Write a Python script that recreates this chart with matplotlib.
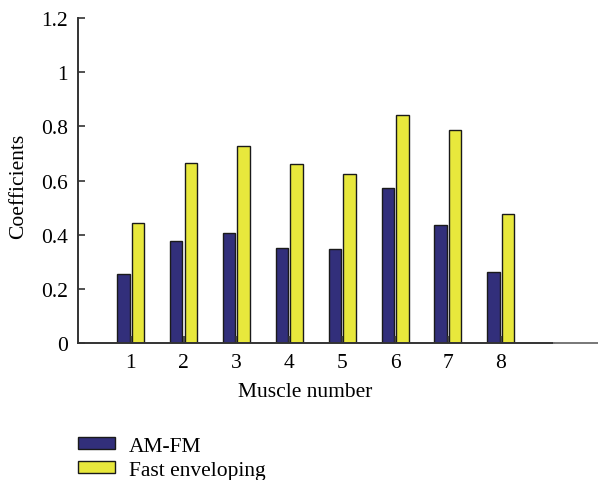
import numpy as np
import matplotlib.pyplot as plt
from matplotlib.lines import Line2D

# --- DATA ---
muscles = [1, 2, 3, 4, 5, 6, 7, 8]
am_fm = [0.255, 0.375, 0.406, 0.352, 0.346, 0.574, 0.436, 0.263]
fast_env = [0.443, 0.664, 0.727, 0.661, 0.623, 0.842, 0.786, 0.475]
y_ticks = [0, 0.2, 0.4, 0.6, 0.8, 1.0, 1.2]
y_tick_labels = ["0", "0.2", "0.4", "0.6", "0.8", "1", "1.2"]

plt.rcParams['font.family'] = ['Liberation Serif', 'DejaVu Serif']
fs = 15.5

# --- PLOT ---
fig = plt.figure(figsize=(5.98, 4.81), dpi=100)
ax = fig.add_axes([0.130, 0.2848, 0.796, 0.6757])

x = np.array(muscles)
w = 0.235
edge = '#1a1a1a'
bars1 = ax.bar(x - 0.138, am_fm, width=w, color='#322f7b', edgecolor=edge,
               linewidth=1.0, label="AM-FM")
bars2 = ax.bar(x + 0.138, fast_env, width=w, color='#e8e83c', edgecolor=edge,
               linewidth=1.0, label="Fast enveloping")

ax.set_xlim(0, 9)
ax.set_ylim(0, 1.2)
ax.set_xticks(muscles)
ax.set_yticks(y_ticks)
ax.set_yticklabels(y_tick_labels)

# eixos estilo "in", sem topo e direita
for s in ['top', 'right']:
    ax.spines[s].set_visible(False)
for s in ['left', 'bottom']:
    ax.spines[s].set_color('#333333')
    ax.spines[s].set_linewidth(1.4)
ax.tick_params(axis='both', direction='in', length=5, width=1.2,
               colors='#333333', labelcolor='black', labelsize=fs)
ax.tick_params(axis='y', pad=7)
ax.tick_params(axis='x', pad=7)

# prolongamento cinza da linha de base até a borda
fig.add_artist(Line2D([0.926, 1.0], [0.2848, 0.2848], color='#777777',
                      linewidth=1.4, transform=fig.transFigure))

ax.set_xlabel("Muscle number", fontsize=fs)
ax.set_ylabel("Coefficients", fontsize=fs)
ax.xaxis.set_label_coords(0.477, -0.12)
ax.yaxis.set_label_coords(-0.105, 0.486)

fig.legend([bars1, bars2], ["AM-FM", "Fast enveloping"],
           loc="upper left", bbox_to_anchor=(0.116, 0.108), frameon=False,
           fontsize=fs, handlelength=1.7, handleheight=0.5,
           labelspacing=0.24, handletextpad=0.65, borderaxespad=0)

fig.savefig("out.png", dpi=100)
